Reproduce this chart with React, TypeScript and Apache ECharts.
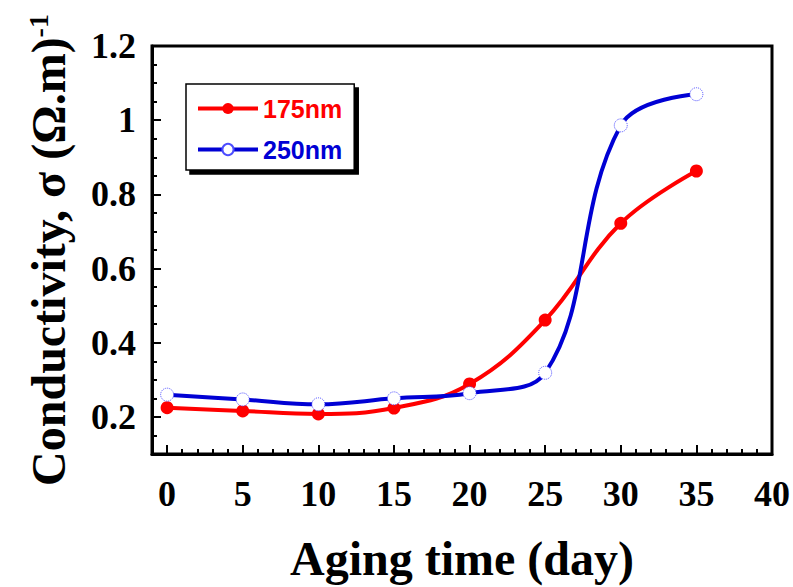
import React, { useEffect, useRef } from "react";
import * as echarts from "echarts";

const days = [0, 5, 10, 15, 20, 25, 30, 35];
const s175 = [0.225, 0.216, 0.208, 0.224, 0.289, 0.461, 0.722, 0.863];
const s250 = [0.26, 0.247, 0.234, 0.25, 0.264, 0.319, 0.986, 1.07];
const xMajor = [0, 5, 10, 15, 20, 25, 30, 35, 40];
const yMajor = [0.2, 0.4, 0.6, 0.8, 1.0, 1.2];
const seriesNames = ["175nm", "250nm"];

const serif = "'Liberation Serif', 'Times New Roman', serif";
const sans = "'Liberation Sans', Arial, sans-serif";

export default function App() {
  const ref = useRef<HTMLDivElement>(null);
  useEffect(() => {
    document.body.style.margin = "0";
    const chart = echarts.init(ref.current!, null, { renderer: "svg" });
    const red = "#ff0000";
    const blue = "#0000d4";
    chart.setOption({
      animation: false,
      backgroundColor: "#fff",
      grid: {
        left: 152,
        right: 21,
        top: 46,
        bottom: 123,
        show: true,
        borderColor: "#000",
        borderWidth: 3,
        backgroundColor: "transparent",
      },
      legend: {
        orient: "vertical",
        left: 186,
        top: 84,
        itemWidth: 60,
        itemHeight: 14,
        itemGap: 16,
        padding: [12, 12, 8, 10],
        backgroundColor: "#fff",
        borderColor: "#000",
        borderWidth: 1.5,
        shadowColor: "#000",
        shadowOffsetX: 4,
        shadowOffsetY: 4,
        shadowBlur: 0,
        lineStyle: { width: 4 },
        textStyle: { fontFamily: sans, fontWeight: "bold", fontSize: 25 },
        data: [
          { name: seriesNames[0], textStyle: { color: red } },
          { name: seriesNames[1], textStyle: { color: blue } },
        ],
      },
      xAxis: [
        {
          type: "value",
          min: -1,
          max: 40,
          position: "bottom",
          axisLine: { show: true, onZero: false, lineStyle: { color: "#000", width: 3 } },
          axisTick: { show: true, inside: true, length: 9, customValues: xMajor, lineStyle: { color: "#000", width: 2 } },
          axisLabel: {
            customValues: xMajor,
            fontSize: 36,
            fontFamily: serif,
            fontWeight: "bold",
            color: "#000",
            margin: 22,
          },
          splitLine: { show: false },
          name: "Aging time (day)",
          nameLocation: "middle",
          nameGap: 80,
          nameTextStyle: { fontSize: 48, fontFamily: serif, fontWeight: "bold", color: "#000" },
        },
        {
          type: "value",
          min: -1,
          max: 40,
          interval: 1,
          position: "bottom",
          axisLine: { show: false, onZero: false },
          axisTick: { show: true, inside: true, length: 5, lineStyle: { color: "#000", width: 2 } },
          axisLabel: { show: false },
          splitLine: { show: false },
        },
      ],
      yAxis: [
        {
          type: "value",
          min: 0.1,
          max: 1.2,
          position: "left",
          axisLine: { show: true, onZero: false, lineStyle: { color: "#000", width: 3 } },
          axisTick: { show: true, inside: true, length: 9, customValues: yMajor, lineStyle: { color: "#000", width: 2 } },
          axisLabel: {
            customValues: yMajor,
            fontSize: 36,
            fontFamily: serif,
            fontWeight: "bold",
            color: "#000",
            margin: 16,
            formatter: (v: number) => String(Math.round(v * 10) / 10),
          },
          splitLine: { show: false },
          name: "{a|Conductivity, σ (Ω.m)}{b|-1}",
          nameLocation: "middle",
          nameGap: 80,
          nameTextStyle: {
            fontSize: 48,
            fontFamily: serif,
            fontWeight: "bold",
            color: "#000",
            rich: {
              a: { fontSize: 48, fontFamily: serif, fontWeight: "bold", color: "#000" },
              b: { fontSize: 28, fontFamily: serif, fontWeight: "bold", color: "#000", verticalAlign: "top" },
            },
          },
        },
        {
          type: "value",
          min: 0.1,
          max: 1.2,
          interval: 0.05,
          position: "left",
          axisLine: { show: false, onZero: false },
          axisTick: { show: true, inside: true, length: 5, lineStyle: { color: "#000", width: 2 } },
          axisLabel: { show: false },
          splitLine: { show: false },
        },
      ],
      series: [
        {
          name: seriesNames[0],
          type: "line",
          xAxisIndex: 0,
          yAxisIndex: 0,
          smooth: 0.4,
          data: days.map((d, i) => [d, s175[i]]),
          symbol: "circle",
          symbolSize: 13,
          lineStyle: { color: red, width: 4 },
          itemStyle: { color: red },
          z: 3,
        },
        {
          name: seriesNames[1],
          type: "line",
          xAxisIndex: 0,
          yAxisIndex: 0,
          smooth: 0.4,
          data: days.map((d, i) => [d, s250[i]]),
          symbol: "circle",
          symbolSize: 13,
          showSymbol: true,
          lineStyle: { color: blue, width: 4 },
          itemStyle: { color: "#fff", borderColor: "#4d4dff", borderWidth: 1, borderType: "dotted" },
          z: 4,
        },
      ],
    });
    return () => chart.dispose();
  }, []);
  return <div ref={ref} style={{ width: 793, height: 587 }} />;
}
